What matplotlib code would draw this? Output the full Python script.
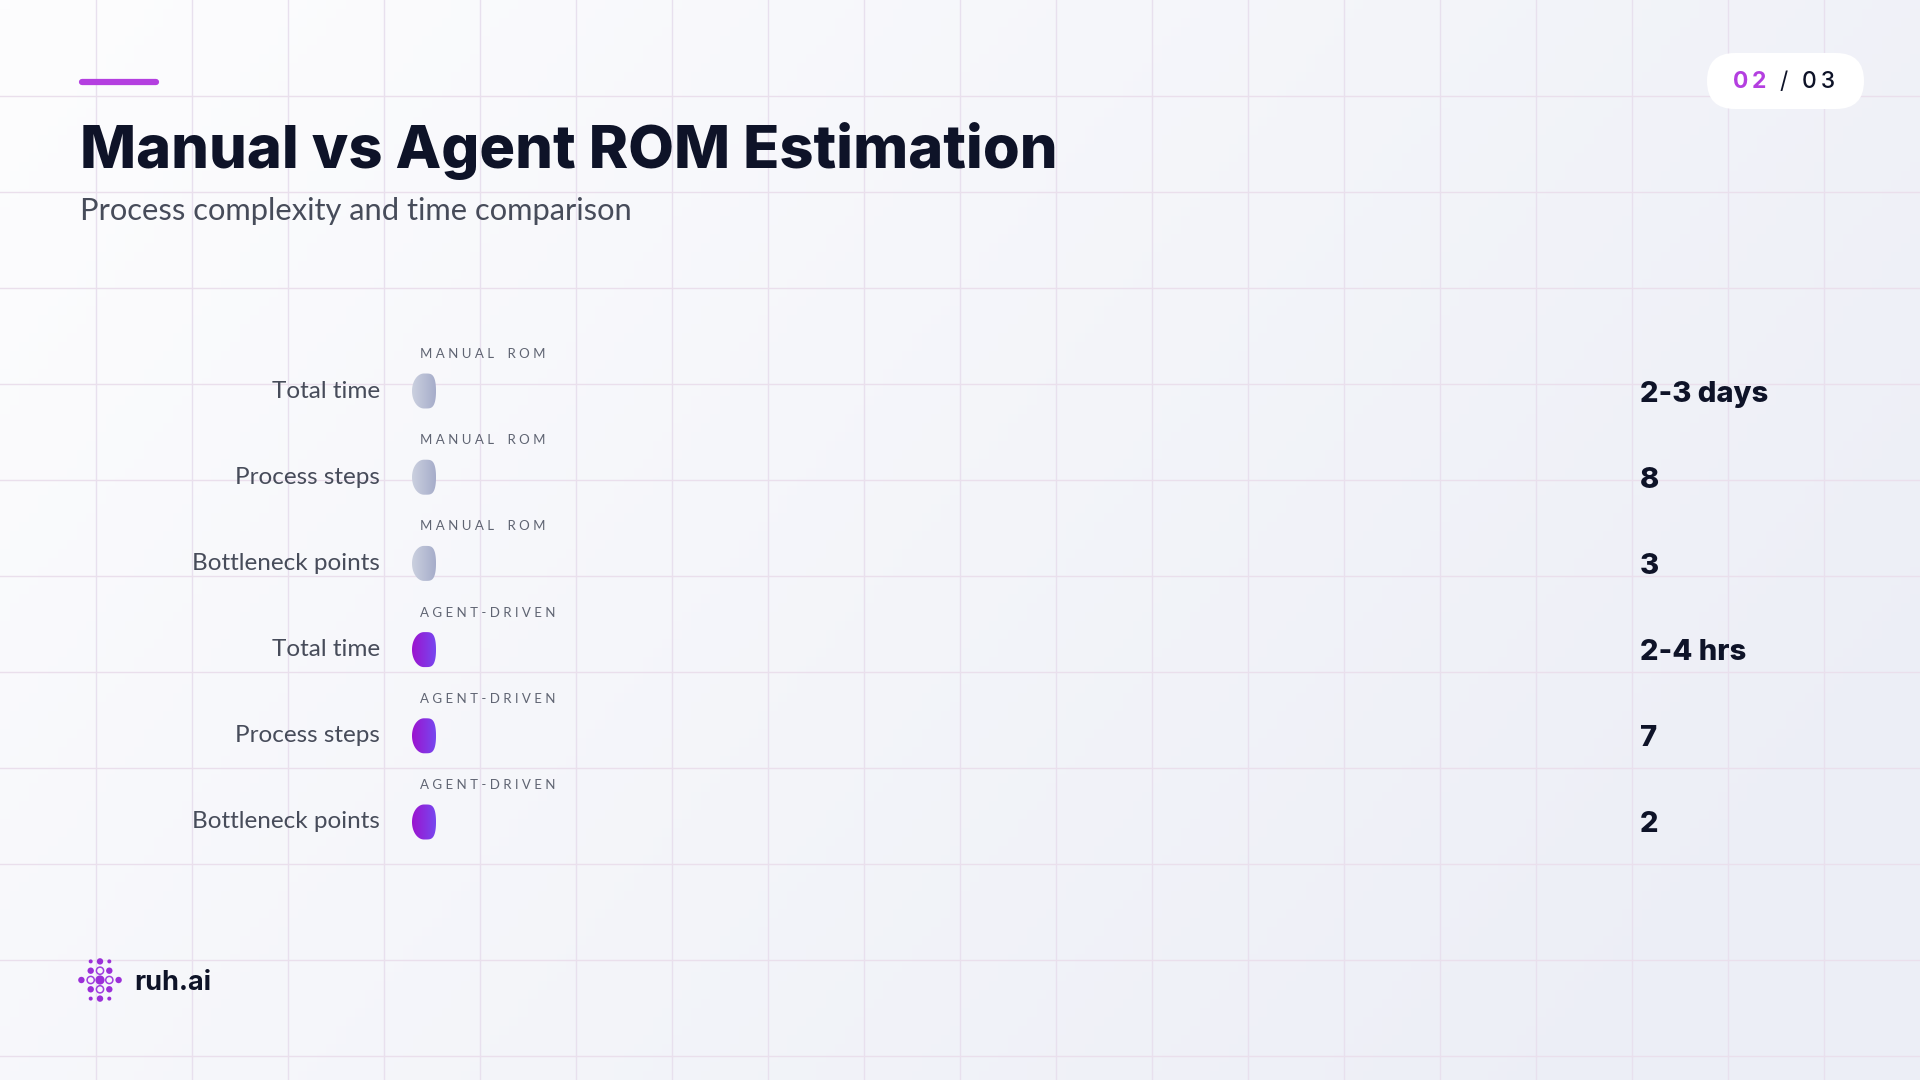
import numpy as np
import matplotlib.pyplot as plt
from matplotlib.path import Path
from matplotlib.patches import PathPatch, FancyBboxPatch, Circle
from matplotlib.colors import to_rgb

# chart data
categories = ["Total time", "Process steps", "Bottleneck points",
              "Total time", "Process steps", "Bottleneck points"]
series = ["MANUAL ROM", "MANUAL ROM", "MANUAL ROM",
          "AGENT-DRIVEN", "AGENT-DRIVEN", "AGENT-DRIVEN"]
value_labels = ["2-3 days", "8", "3", "2-4 hrs", "7", "2"]
bar_lengths = [0, 0, 0, 0, 0, 0]  # values are text, bars collapse to their caps

title = "Manual vs Agent ROM Estimation"
subtitle = "Process complexity and time comparison"

series_colors = {
    "MANUAL ROM": ("#cbd0df", "#a6adca"),
    "AGENT-DRIVEN": ("#9c14cf", "#7747ef"),
}

DARK = "#0e1328"
GREY = "#474c5a"
ACCENT = "#b43fe0"
TITLE_FONT = ["Inter", "DejaVu Sans"]
BODY_FONT = ["Lato", "DejaVu Sans"]

W, H = 1920, 1080
fig = plt.figure(figsize=(19.2, 10.8), dpi=100)

# background with faint grid
bg = fig.add_axes([0, 0, 1, 1])
bg.set_xlim(0, W)
bg.set_ylim(H, 0)
bg.axis("off")
gx = np.linspace(0, 1, 200)[None, :]
gy = np.linspace(0, 1, 120)[:, None]
t = np.clip(0.75 * gx + 0.35 * gy, 0, 1)
c0 = np.array(to_rgb("#fdfdfe"))
c1 = np.array(to_rgb("#eceef6"))
grad = c0 + (c1 - c0) * t[..., None]
bg.imshow(grad, extent=(0, W, H, 0), aspect="auto", zorder=0)
for x in range(96, W, 96):
    bg.axvline(x, color="#e8e0ee", lw=1, zorder=1)
for y in range(96, H, 96):
    bg.axhline(y, color="#eadfec", lw=1, zorder=1)

# header
bg.plot([82, 156], [82, 82], color=ACCENT, lw=4.5, solid_capstyle="round", zorder=3)
bg.text(80, 168, title, fontsize=42.8, fontweight="heavy", color=DARK,
        family=TITLE_FONT, ha="left", va="baseline", zorder=3)
bg.text(80, 220, subtitle, fontsize=22.2, color=GREY, family=BODY_FONT,
        ha="left", va="baseline", zorder=3)

# page indicator
pill = FancyBboxPatch((1707 + 28, 53 + 28), 157 - 56, 0,
                      boxstyle="round,pad=28,rounding_size=28",
                      fc="white", ec="none", zorder=3)
bg.add_patch(pill)
bg.text(1750, 82, "0\u20092", fontsize=16.5, fontweight="bold", color=ACCENT,
        family=TITLE_FONT, ha="center", va="center", zorder=4)
bg.text(1784, 82, "/", fontsize=16.5, color=DARK, family=TITLE_FONT,
        ha="center", va="center", zorder=4)
bg.text(1819, 82, "0\u20093", fontsize=16.5, fontweight="medium", color=DARK,
        family=TITLE_FONT, ha="center", va="center", zorder=4)

# logo
lx, ly, s = 100, 980, 9.3
for dx, dy, kind in [(0, -2, "f"), (-1, -2, "s"), (1, -2, "s"),
                     (-1, -1, "f"), (0, -1, "h"), (1, -1, "f"),
                     (-2, 0, "f"), (-1, 0, "h"), (0, 0, "F"), (1, 0, "h"), (2, 0, "f"),
                     (-1, 1, "f"), (0, 1, "h"), (1, 1, "f"),
                     (0, 2, "f"), (-1, 2, "s"), (1, 2, "s")]:
    cx, cy = lx + dx * s, ly + dy * s
    if kind == "h":
        bg.add_patch(Circle((cx, cy), 3.6, fc="none", ec="#a13ee0", lw=1.1, zorder=4))
    else:
        r = {"F": 4.6, "f": 3.2, "s": 2.0}[kind]
        bg.add_patch(Circle((cx, cy), r, fc="#9b2fd8", ec="none", zorder=4))
bg.text(134, 990, "ruh.ai", fontsize=19.5, fontweight="bold", color=DARK,
        family=TITLE_FONT, ha="left", va="baseline", zorder=4)

# chart area: x in pixel-sized units, y in rows
row_px = 86.2
top_px = 391 - row_px / 2
left_px = 412
n = len(categories)
ax = fig.add_axes([left_px / W, 1 - (top_px + n * row_px) / H,
                   1400 / W, n * row_px / H])
ax.set_xlim(0, 1400)
ax.set_ylim(n - 0.5, -0.5)
ax.axis("off")
ax.patch.set_alpha(0)


def cap_path(x0, length, yc, w=24, h=35):
    # rounded-left, squarish-right cap of a bar
    a, b = w / 2, h / 2
    th = np.linspace(0, 2 * np.pi, 120)
    c, sn = np.cos(th), np.sin(th)
    px = np.where(c < 0, c, np.sign(c) * np.abs(c) ** 0.45)
    py = np.where(c < 0, sn, np.sign(sn) * np.abs(sn) ** 0.9)
    xs = x0 + a + a * px + np.where(c > 0, length, 0)
    ys = yc + (b * py) / row_px
    verts = np.column_stack([xs, ys])
    return Path(np.vstack([verts, verts[:1]]), closed=True)


for i, (cat, ser, lab, ln) in enumerate(zip(categories, series, value_labels, bar_lengths)):
    left_c, right_c = series_colors[ser]
    path = cap_path(0, ln, i)
    patch = PathPatch(path, fc="none", ec="none")
    ax.add_patch(patch)
    g = np.linspace(0, 1, 64)[None, :, None]
    cols = np.array(to_rgb(left_c)) + (np.array(to_rgb(right_c)) - np.array(to_rgb(left_c))) * g
    im = ax.imshow(cols, extent=(0, 24 + ln, i + 0.25, i - 0.25), aspect="auto",
                   interpolation="bilinear", zorder=3)
    im.set_clip_path(patch)

    ax.text(-32, i, cat, fontsize=17.5, color=GREY, family=BODY_FONT,
            ha="right", va="center")
    ax.text(8, i - 37 / row_px, " ".join(ser).replace("   ", "    "), fontsize=9.5,
            color="#5f6472", family=BODY_FONT, ha="left", va="center")
    ax.text(1228, i + 3 / row_px, lab, fontsize=21, fontweight="heavy", color=DARK,
            family=TITLE_FONT, ha="left", va="center")

ax.set_xlim(0, 1400)
ax.set_ylim(n - 0.5, -0.5)

fig.savefig("out.png", dpi=100)
